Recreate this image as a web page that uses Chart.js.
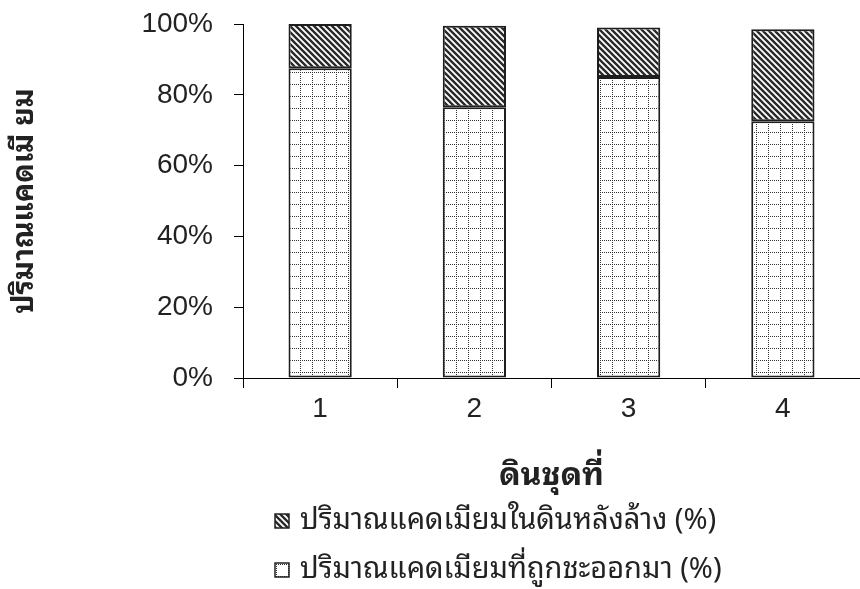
<!DOCTYPE html>
<html>
<head>
<meta charset="utf-8">
<script src="https://cdn.jsdelivr.net/npm/chart.js@4.4.1/dist/chart.umd.min.js"></script>
<style>
  html, body { margin: 0; padding: 0; background: #fff; }
</style>
</head>
<body>
<canvas id="cdChart" width="860" height="589"></canvas>
<script>
// ชุดดิน และสัดส่วนแคดเมียม (%)
const soilSets = ['1', '2', '3', '4'];
const leachedPct = [87.5, 76.5, 85, 72.5];     // ถูกชะออกมา
const remainingPct = [12.5, 23, 14, 26];       // เหลือในดินหลังล้าง
const yTicks = [0, 20, 40, 60, 80, 100];

const yTitle = 'ปริมาณแคดเมี ยม';
const xTitle = 'ดินชุดที่';
const leachedLabel = 'ปริมาณแคดเมียมที่ถูกชะออกมา (%)';
const remainingLabel = 'ปริมาณแคดเมียมในดินหลังล้าง (%)';

const numFont = "'Liberation Sans', Arial, sans-serif";
const thaiFont = "'Noto Sans Thai Looped', 'Noto Sans Thai', Tahoma, 'Noto Sans', sans-serif";

const canvas = document.getElementById('cdChart');
const ctx = canvas.getContext('2d');

// ลายเส้นทแยง
function hatchPattern() {
    const c = document.createElement('canvas');
    c.width = 6; c.height = 6;
    const g = c.getContext('2d');
    g.fillStyle = '#fff';
    g.fillRect(0, 0, 6, 6);
    g.strokeStyle = '#2a2a2a';
    g.lineWidth = 2.4;
    g.beginPath();
    g.moveTo(-1, -1); g.lineTo(7, 7);
    g.moveTo(-1, 5); g.lineTo(1, 7);
    g.moveTo(5, -1); g.lineTo(7, 1);
    g.stroke();
    return ctx.createPattern(c, 'repeat');
}

// ลายตารางจุด
function dotGridPattern() {
    const n = 12;
    const c = document.createElement('canvas');
    c.width = n; c.height = n;
    const g = c.getContext('2d');
    g.fillStyle = '#fff';
    g.fillRect(0, 0, n, n);
    g.fillStyle = '#333';
    for (let i = 0; i < n; i += 2) {
        g.fillRect(i, 0, 1, 1);
        g.fillRect(0, i, 1, 1);
    }
    return ctx.createPattern(c, 'repeat');
}

const hatch = hatchPattern();
const dotGrid = dotGridPattern();

// legend สองแถวด้านล่าง
const bottomLegend = {
    id: 'bottomLegend',
    afterDraw(chart) {
        const g = chart.ctx;
        const items = chart.data.datasets.slice().reverse();
        g.save();
        g.font = '29px ' + thaiFont;
        g.textBaseline = 'middle';
        g.textAlign = 'left';
        items.forEach((ds, i) => {
            const y = 521 + i * 49;
            g.fillStyle = ds.backgroundColor;
            g.fillRect(275, y - 7, 14, 14);
            g.strokeStyle = '#222';
            g.lineWidth = 1.5;
            g.strokeRect(275, y - 7, 14, 14);
            g.fillStyle = '#222';
            g.fillText(ds.label, 300, y);
        });
        g.restore();
    }
};

new Chart(ctx, {
    type: 'bar',
    data: {
        labels: soilSets,
        datasets: [
            {
                label: leachedLabel,
                data: leachedPct,
                backgroundColor: dotGrid,
                borderColor: '#1e1e1e',
                borderWidth: 2,
                borderSkipped: false,
                barPercentage: 0.41,
                categoryPercentage: 1
            },
            {
                label: remainingLabel,
                data: remainingPct,
                backgroundColor: hatch,
                borderColor: '#1e1e1e',
                borderWidth: 2,
                borderSkipped: false,
                barPercentage: 0.41,
                categoryPercentage: 1
            }
        ]
    },
    options: {
        responsive: false,
        animation: false,
        layout: { padding: { left: 0, right: 0, top: 24, bottom: 89 } },
        plugins: {
            legend: { display: false },
            tooltip: { enabled: false }
        },
        scales: {
            x: {
                stacked: true,
                grid: { offset: true, drawOnChartArea: false, tickLength: 10, color: '#000', lineWidth: 1 },
                border: { color: '#000', width: 1 },
                ticks: { color: '#222', padding: 4, font: { family: numFont, size: 28 } },
                title: {
                    display: true,
                    text: xTitle,
                    color: '#222',
                    font: { family: thaiFont, size: 32, weight: 'bold' },
                    padding: { top: 0, bottom: 5 }
                },
                afterFit: (s) => { s.height = 122; }
            },
            y: {
                stacked: true,
                min: 0,
                max: 100,
                afterBuildTicks: (s) => { s.ticks = yTicks.map(v => ({ value: v })); },
                grid: { drawOnChartArea: false, tickLength: 9, color: '#000', lineWidth: 1 },
                border: { color: '#000', width: 1 },
                ticks: {
                    color: '#222',
                    padding: 21,
                    font: { family: numFont, size: 28 },
                    callback: (v) => v + '%'
                },
                title: {
                    display: true,
                    text: yTitle,
                    color: '#222',
                    font: { family: thaiFont, size: 29, weight: 'bold' },
                    padding: { top: 7, bottom: 0 }
                },
                afterFit: (s) => {
                    s.width = 243;
                    s.paddingTop = 0;
                    s.paddingBottom = 0;
                }
            }
        }
    },
    plugins: [bottomLegend]
});
</script>
</body>
</html>
